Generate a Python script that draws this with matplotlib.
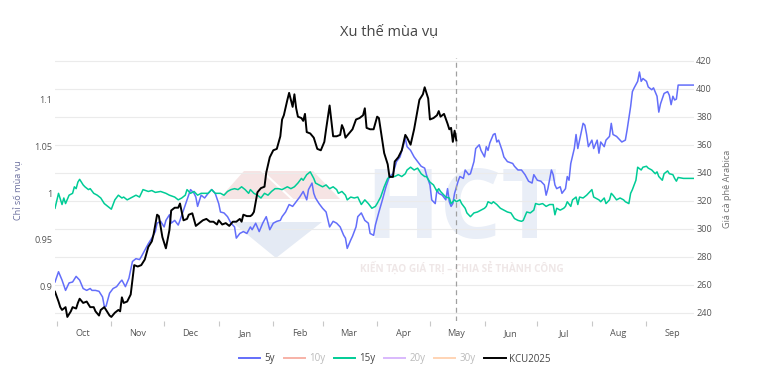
import pandas as pd
import numpy as np
import matplotlib
matplotlib.use('Agg')
import matplotlib.pyplot as plt
import matplotlib.dates as mdates
import matplotlib.transforms as mtransforms
from matplotlib.lines import Line2D
from matplotlib.patches import Polygon

plt.rcParams['font.family'] = ['Open Sans', 'DejaVu Sans']

start = pd.Timestamp('2024-10-01')

# days counted from 1 Oct 2024
days_5y = [-1, 1, 3, 5, 7, 9, 11, 13, 15, 17,
           19, 20, 22, 24, 26, 27, 28, 30, 32, 34,
           36, 37, 39, 41, 43, 45, 47, 48, 50, 52,
           54, 56, 57, 59, 61, 62, 64, 65, 67, 69,
           70, 72, 74, 76, 78, 79, 80, 82, 84, 86,
           88, 90, 92, 93, 95, 97, 99, 101, 102, 104,
           106, 108, 110, 111, 113, 115, 117, 119, 121, 123,
           125, 127, 128, 130, 132, 134, 136, 138, 140, 142,
           143, 145, 146, 147, 149, 151, 153, 155, 157, 159,
           161, 163, 164, 165, 167, 168, 170, 171, 173, 175,
           177, 178, 180, 181, 183, 185, 187, 189, 191, 193,
           195, 197, 198, 199, 201, 203, 205, 207, 209, 210,
           212, 213, 215, 216, 217, 219, 221, 222, 223, 224,
           225, 226, 228, 229, 231, 232, 234, 235, 237, 238,
           240, 241, 243, 244, 245, 246, 248, 249, 250, 251,
           253, 254, 256, 259, 260, 262, 264, 266, 268, 270,
           271, 273, 275, 277, 278, 279, 281, 282, 283, 284,
           286, 287, 289, 290, 291, 292, 294, 295, 296, 297,
           299, 300, 301, 302, 304, 305, 307, 308, 309, 311,
           312, 314, 315, 316, 318, 319, 321, 323, 324, 326,
           327, 328, 330, 331, 332, 333, 335, 336, 338, 339,
           341, 342, 343, 345, 347, 348, 349, 350, 351, 352,
           353, 356, 362]
vals_5y = [0.905, 0.916, 0.907, 0.896, 0.904, 0.905, 0.911, 0.907, 0.898, 0.896,
           0.898, 0.896, 0.896, 0.895, 0.889, 0.879, 0.879, 0.893, 0.898, 0.900,
           0.905, 0.907, 0.900, 0.909, 0.927, 0.930, 0.929, 0.932, 0.939, 0.946,
           0.952, 0.959, 0.968, 0.970, 0.964, 0.971, 0.977, 0.968, 0.971, 0.966,
           0.971, 0.982, 0.993, 1.004, 1.000, 0.996, 0.986, 0.998, 0.995, 1.000,
           1.004, 1.000, 0.989, 0.980, 0.979, 0.975, 0.968, 0.964, 0.952, 0.957,
           0.959, 0.957, 0.964, 0.961, 0.968, 0.959, 0.968, 0.975, 0.961, 0.968,
           0.970, 0.971, 0.975, 0.980, 0.988, 0.986, 0.991, 0.996, 1.002, 0.993,
           1.004, 1.011, 1.000, 0.995, 0.989, 0.984, 0.980, 0.964, 0.970, 0.968,
           0.964, 0.955, 0.952, 0.941, 0.950, 0.954, 0.964, 0.975, 0.979, 0.971,
           0.968, 0.957, 0.955, 0.966, 0.980, 0.993, 1.007, 1.018, 1.021, 1.034,
           1.039, 1.052, 1.059, 1.050, 1.046, 1.039, 1.034, 1.029, 1.027, 1.020,
           1.009, 0.993, 0.989, 1.004, 1.000, 0.998, 0.993, 1.005, 0.991, 0.986,
           0.989, 1.000, 1.013, 1.018, 1.016, 1.025, 1.020, 1.021, 1.034, 1.048,
           1.052, 1.046, 1.039, 1.050, 1.046, 1.054, 1.063, 1.064, 1.055, 1.057,
           1.046, 1.039, 1.034, 1.032, 1.029, 1.025, 1.025, 1.020, 1.013, 1.011,
           1.020, 1.014, 1.013, 1.009, 0.998, 1.005, 1.025, 1.020, 1.009, 1.005,
           1.007, 1.000, 1.005, 1.018, 1.014, 1.032, 1.048, 1.063, 1.048, 1.057,
           1.075, 1.073, 1.063, 1.050, 1.057, 1.048, 1.057, 1.043, 1.055, 1.050,
           1.057, 1.061, 1.075, 1.063, 1.061, 1.059, 1.055, 1.057, 1.068, 1.093,
           1.109, 1.113, 1.120, 1.130, 1.120, 1.123, 1.120, 1.114, 1.111, 1.113,
           1.104, 1.087, 1.096, 1.107, 1.109, 1.105, 1.095, 1.104, 1.100, 1.101,
           1.116, 1.116, 1.116]

days_15y = [-1, 1, 3, 4, 5, 7, 9, 10, 11, 12,
            13, 15, 16, 18, 19, 21, 23, 25, 27, 29,
            31, 33, 35, 37, 38, 40, 42, 45, 47, 49,
            52, 54, 56, 59, 62, 64, 67, 69, 71, 73,
            74, 76, 78, 80, 82, 84, 86, 88, 90, 92,
            93, 95, 97, 99, 101, 103, 105, 107, 109, 110,
            112, 114, 116, 118, 120, 122, 124, 126, 128, 129,
            131, 133, 135, 137, 139, 140, 142, 144, 146, 147,
            149, 151, 153, 155, 157, 159, 160, 162, 164, 165,
            167, 169, 171, 173, 175, 177, 179, 181, 182, 184,
            186, 188, 190, 192, 194, 196, 198, 199, 201, 203,
            205, 207, 209, 210, 212, 214, 216, 217, 218, 220,
            221, 223, 224, 226, 227, 229, 230, 232, 233, 235,
            237, 239, 241, 243, 244, 245, 247, 248, 250, 252,
            254, 256, 258, 260, 262, 264, 265, 267, 269, 271,
            272, 274, 276, 278, 280, 282, 283, 284, 286, 288,
            289, 290, 292, 293, 295, 296, 297, 299, 301, 302,
            304, 305, 306, 308, 309, 311, 312, 314, 315, 316,
            318, 320, 322, 323, 325, 326, 327, 329, 330, 332,
            333, 335, 336, 338, 340, 341, 342, 344, 345, 347,
            348, 350, 351, 352, 353, 356, 362]
vals_15y = [0.984, 1.000, 0.988, 0.995, 0.989, 0.998, 1.000, 1.007, 1.005, 1.012,
            1.015, 1.009, 1.007, 1.004, 1.005, 1.000, 0.998, 0.995, 0.989, 0.986,
            0.983, 0.993, 0.998, 0.995, 0.996, 0.993, 0.995, 0.998, 0.996, 1.004,
            1.002, 1.003, 1.001, 1.002, 1.000, 0.998, 0.996, 0.993, 0.995, 0.998,
            1.004, 1.000, 1.002, 0.998, 1.000, 1.000, 1.000, 1.004, 1.000, 1.000,
            1.000, 0.998, 1.002, 1.004, 1.005, 1.004, 1.007, 1.004, 1.000, 1.004,
            1.000, 0.998, 0.995, 1.000, 0.998, 1.002, 1.005, 1.005, 1.004, 1.005,
            1.007, 1.005, 1.007, 1.011, 1.016, 1.014, 1.020, 1.023, 1.016, 1.011,
            1.009, 1.007, 1.009, 1.005, 1.007, 1.004, 1.000, 1.002, 0.998, 0.993,
            0.996, 0.995, 0.996, 0.988, 0.993, 0.989, 0.984, 0.986, 0.989, 0.996,
            1.007, 1.016, 1.018, 1.018, 1.020, 1.018, 1.021, 1.025, 1.028, 1.025,
            1.027, 1.021, 1.018, 1.018, 1.012, 1.009, 1.002, 1.005, 1.002, 0.998,
            0.996, 0.995, 0.989, 0.993, 0.991, 0.993, 0.989, 0.984, 0.979, 0.975,
            0.979, 0.980, 0.982, 0.984, 0.986, 0.991, 0.989, 0.991, 0.988, 0.984,
            0.982, 0.980, 0.979, 0.973, 0.971, 0.970, 0.971, 0.980, 0.979, 0.982,
            0.989, 0.988, 0.989, 0.986, 0.988, 0.988, 0.977, 0.984, 0.982, 0.984,
            0.986, 0.991, 0.986, 0.993, 0.996, 0.988, 0.996, 0.995, 0.998, 1.000,
            1.004, 0.996, 0.995, 0.993, 0.991, 0.995, 0.989, 0.993, 1.000, 0.998,
            0.993, 0.995, 0.993, 0.991, 0.989, 1.000, 1.004, 1.014, 1.028, 1.025,
            1.028, 1.029, 1.027, 1.025, 1.021, 1.023, 1.018, 1.014, 1.021, 1.024,
            1.021, 1.020, 1.016, 1.013, 1.017, 1.016, 1.016]

days_kcu = [-1, 1, 2, 3, 5, 6, 8, 9, 11, 12,
            13, 15, 17, 19, 21, 22, 24, 25, 27, 28,
            30, 31, 33, 35, 36, 37, 38, 40, 42, 44,
            46, 48, 50, 52, 54, 55, 57, 58, 60, 62,
            64, 65, 67, 69, 70, 72, 74, 75, 77, 79,
            81, 83, 85, 87, 89, 91, 92, 94, 96, 98,
            100, 102, 104, 105, 106, 108, 110, 111, 112, 114,
            116, 118, 119, 121, 123, 125, 127, 128, 129, 131,
            132, 134, 135, 136, 137, 139, 140, 141, 142, 144,
            146, 148, 150, 152, 153, 155, 157, 159, 161, 162,
            163, 164, 166, 168, 170, 172, 174, 175, 176, 178,
            180, 182, 183, 185, 186, 188, 189, 191, 192, 194,
            196, 198, 199, 201, 203, 205, 206, 208, 209, 211,
            212, 214, 216, 217, 218, 220, 222, 223, 224, 225,
            226, 227]
vals_kcu = [255, 248, 244, 242, 244, 237, 241, 244, 243, 247,
            250, 247, 248, 244, 244, 241, 238, 242, 244, 242,
            238, 237, 240, 242, 241, 251, 247, 248, 253, 274,
            273, 274, 278, 287, 291, 296, 310, 309, 294, 286,
            299, 313, 315, 315, 318, 306, 307, 310, 311, 302,
            304, 306, 307, 305, 305, 303, 306, 303, 304, 302,
            305, 305, 307, 305, 310, 309, 309, 310, 312, 326,
            329, 330, 340, 351, 356, 357, 366, 378, 381, 392,
            397, 387, 396, 386, 380, 379, 377, 382, 369, 368,
            365, 357, 356, 362, 371, 388, 366, 366, 367, 374,
            371, 365, 368, 371, 378, 379, 381, 386, 372, 371,
            371, 380, 379, 362, 354, 346, 337, 337, 348, 351,
            356, 367, 365, 360, 371, 385, 392, 396, 401, 393,
            378, 379, 381, 384, 380, 382, 375, 371, 372, 362,
            370, 363]

left_ticks = [0.9, 0.95, 1.0, 1.05, 1.1]
left_labels = ['0.9', '0.95', '1', '1.05', '1.1']
right_ticks = [240, 260, 280, 300, 320, 340, 360, 380, 400, 420]
legend_names = ['5y', '10y', '15y', '20y', '30y', 'KCU2025']
legend_colors = ['#636efa', '#ef553b', '#00cc96', '#ab63fa', '#ffa15a', 'black']
legend_hidden = [False, True, False, True, True, False]


def to_dates(days):
    return start + pd.to_timedelta(days, unit='D')


W, H = 781, 370
fig = plt.figure(figsize=(W / 100, H / 100), dpi=100)


def px(x, y):
    return (x / W, 1 - y / H)


# faint HCT watermark behind the plot
logo_pink = [px(219, 199), px(244, 171), px(313, 171), px(340, 199)]
logo_blue = [px(232, 222), px(322, 222), px(276, 258)]
fig.patches.append(Polygon(logo_pink, closed=True, transform=fig.transFigure,
                           facecolor='#f6e4e4', edgecolor='none', zorder=-2))
fig.patches.append(Polygon(logo_blue, closed=True, transform=fig.transFigure,
                           facecolor='#e4eaf4', edgecolor='none', zorder=-2))
fig.add_artist(Line2D([262 / W, 292 / W], [1 - 171 / H, 1 - 199 / H], color='white',
                      lw=1.5, zorder=-1.5))
fig.text(*px(462, 238), 'HCT', ha='center', va='baseline', fontsize=70,
         fontweight='bold', color='#e9eef7', zorder=-1)
fig.text(*px(462, 268), 'KIẾN TẠO GIÁ TRỊ – CHIA SẺ THÀNH CÔNG', ha='center', va='center',
         fontsize=7.2, fontweight='bold', color='#efe7e7', zorder=-1)

ax = fig.add_axes([55 / W, 49 / H, 639 / W, 263 / H])
ax.patch.set_visible(False)
ax2 = ax.twinx()
ax2.patch.set_visible(False)

ax.set_ylim(0.8632, 1.1450)
ax2.set_ylim(234.1, 421.9)

# grid belongs to the right axis but is drawn under every line
blend = mtransforms.blended_transform_factory(ax.transAxes, ax2.transData)
for v in right_ticks:
    ax.add_line(Line2D([0, 1], [v, v], transform=blend, color='#ebebeb', lw=0.8, zorder=0))

ax.plot(to_dates(days_5y), vals_5y, color='#636efa', lw=1.1, zorder=2)
ax.plot(to_dates(days_15y), vals_15y, color='#00cc96', lw=1.1, zorder=2)
ax2.plot(to_dates(days_kcu), vals_kcu, color='black', lw=1.4, zorder=3)
ax2.axvline(to_dates(days_kcu)[-1], color='#a0a0a0', lw=0.9, ls=(0, (4, 3)), zorder=1)

ax.set_xlim(to_dates([days_5y[0], days_5y[-1]]))

for a in (ax, ax2):
    for s in a.spines.values():
        s.set_visible(False)

ax.set_yticks(left_ticks)
ax.set_yticklabels(left_labels)
ax.tick_params(axis='y', length=0, pad=2, labelsize=6.6, labelcolor='#555555')
ax2.set_yticks(right_ticks)
ax2.tick_params(axis='y', length=0, pad=1.5, labelsize=6.6, labelcolor='#555555')

ax.xaxis.set_major_locator(mdates.MonthLocator())
ax.xaxis.set_major_formatter(plt.NullFormatter())
ax.xaxis.set_minor_locator(mdates.MonthLocator(bymonthday=16))
ax.xaxis.set_minor_formatter(mdates.DateFormatter('%b'))
ax.tick_params(axis='x', which='major', length=3.5, width=0.8, color='#c8c8c8')
ax.tick_params(axis='x', which='minor', length=0, pad=6, labelsize=6.6, labelcolor='#555555')

fig.text(*px(389, 33), 'Xu thế mùa vụ', ha='center', va='center', fontsize=10.5, color='#444444')
fig.text(*px(18, 190), 'Chỉ số mùa vụ', rotation=90, ha='center', va='center',
         fontsize=6.6, color='#6b6f9e')
fig.text(*px(727, 189), 'Giá cà phê Arabica', rotation=90, ha='center', va='center',
         fontsize=6.6, color='#707070')

handles = [Line2D([0], [0], color=c, lw=1.4, alpha=0.45 if hid else 1)
           for c, hid in zip(legend_colors, legend_hidden)]
leg = fig.legend(handles, legend_names, loc='center', bbox_to_anchor=px(395, 359), ncol=6,
                 frameon=False, fontsize=7, handlelength=2.2, handletextpad=0.4,
                 columnspacing=0.9)
for txt, hid in zip(leg.get_texts(), legend_hidden):
    txt.set_color('#bbbbbb' if hid else '#444444')

fig.savefig('out.png', dpi=100)
